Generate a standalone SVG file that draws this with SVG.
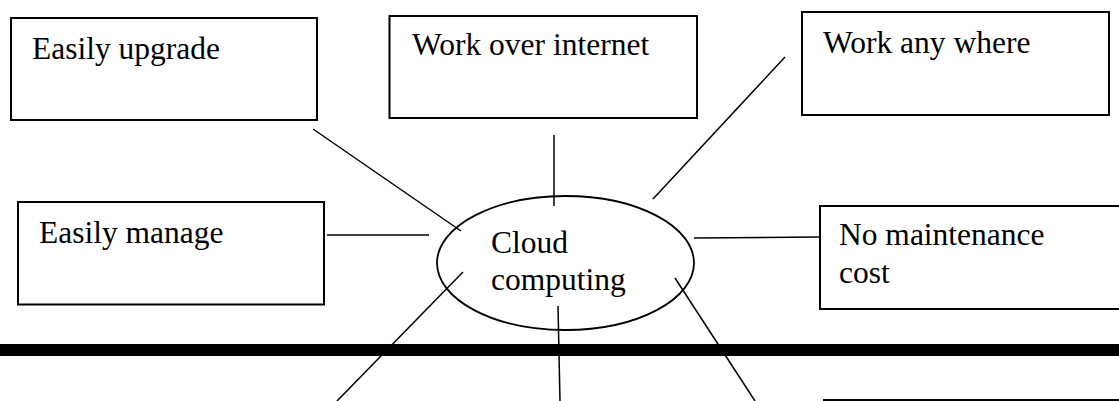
<svg xmlns="http://www.w3.org/2000/svg" width="1119" height="401" viewBox="0 0 1119 401">
<style>
.box{fill:#fff;stroke:#000;stroke-width:2}
.lbl{font-family:"Liberation Serif","Times New Roman",serif;font-size:31.5px;fill:#000}
.con line{stroke:#000;stroke-width:1.5}
</style>
<rect x="0" y="0" width="1119" height="401" fill="#fff"/>
<g class="con" id="connectors">
<line x1="313" y1="129" x2="461" y2="231"/>
<line x1="554" y1="135" x2="554" y2="206"/>
<line x1="785" y1="57" x2="653" y2="199"/>
<line x1="327" y1="235" x2="429" y2="235"/>
<line x1="694" y1="238" x2="820" y2="237"/>
<line x1="463" y1="272" x2="337" y2="401"/>
<line x1="558" y1="306" x2="560" y2="401"/>
<line x1="675" y1="278" x2="755" y2="401"/>
</g>
<g id="n-upgrade"><rect class="box" x="11" y="18" width="306" height="102"/><text class="lbl" x="32" y="59">Easily upgrade</text></g>
<g id="n-internet"><rect class="box" x="389.5" y="16" width="307.5" height="102"/><text class="lbl" x="412" y="55">Work over internet</text></g>
<g id="n-anywhere"><rect class="box" x="802" y="12" width="307" height="103"/><text class="lbl" x="823" y="53">Work any where</text></g>
<g id="n-manage"><rect class="box" x="18" y="202" width="306" height="102.5"/><text class="lbl" x="39" y="243">Easily manage</text></g>
<g id="n-maintenance"><rect class="box" x="820" y="206" width="320" height="103"/><text class="lbl" x="839" y="245">No maintenance</text><text class="lbl" x="839" y="283">cost</text></g>
<g id="n-cloud"><ellipse cx="565.5" cy="263" rx="128.5" ry="67" fill="none" stroke="#000" stroke-width="1.8"/><text class="lbl" x="491" y="253">Cloud</text><text class="lbl" x="491" y="290">computing</text></g>
<rect id="bar" x="0" y="344" width="1119" height="12" fill="#000"/>
<g id="n-bottom"><line x1="823" y1="400" x2="1119" y2="400" stroke="#000" stroke-width="2"/></g>
</svg>
